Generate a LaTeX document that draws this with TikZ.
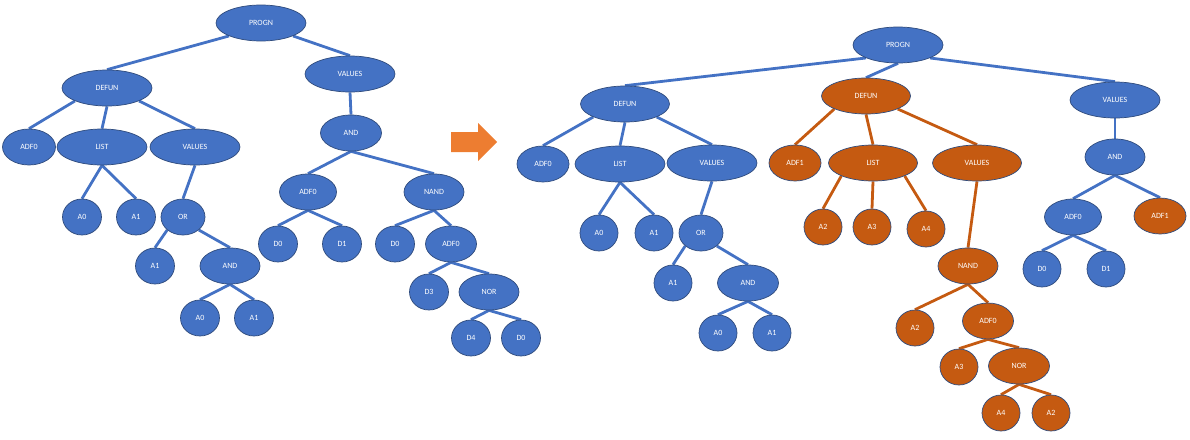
\documentclass[tikz,border=0pt]{standalone}
\usepackage{fontspec}
\setmainfont{Carlito}
\usetikzlibrary{shapes.geometric,backgrounds}
\definecolor{bfill}{HTML}{4472C4}
\definecolor{ofill}{HTML}{C55A11}
\definecolor{rim}{HTML}{2F4B7C}
\definecolor{arrowc}{HTML}{ED7D31}

\begin{document}
\begin{tikzpicture}[x=1pt,y=-1pt,
    tn/.style={ellipse, draw=rim, line width=0.7pt, text=white, inner sep=0pt,
      minimum width=#1, minimum height=36, font=\fontsize{8}{9}\selectfont},
    bn/.style={tn=#1, fill=bfill},
    on/.style={tn=#1, fill=ofill},
    bl/.style={draw=bfill, line width=2.8pt},
    ol/.style={draw=ofill, line width=2.8pt}]
  \useasboundingbox (0,0) rectangle (1190,439);

  % first tree
  \node[bn=90] (l0) at (261,23) {PROGN};
  \node[bn=90] (l1) at (107,88) {DEFUN};
  \node[bn=90] (l2) at (350,74) {VALUES};
  \node[bn=53] (l11) at (29,147) {ADF0};
  \node[bn=90] (l12) at (102,147) {LIST};
  \node[bn=90] (l13) at (195,147) {VALUES};
  \node[bn=39] (l121) at (82,217) {A0};
  \node[bn=39] (l122) at (136,217) {A1};
  \node[bn=44] (l131) at (183,217) {OR};
  \node[bn=39] (l1311) at (155,266) {A1};
  \node[bn=60] (l1312) at (230,266) {AND};
  \node[bn=39] (l13121) at (200,318) {A0};
  \node[bn=39] (l13122) at (254,318) {A1};
  \node[bn=61] (l21) at (351,133) {AND};
  \node[bn=57] (l211) at (308,192) {ADF0};
  \node[bn=39] (l2111) at (278,244) {D0};
  \node[bn=39] (l2112) at (342,244) {D1};
  \node[bn=60] (l212) at (434,192) {NAND};
  \node[bn=39] (l2121) at (395,244) {D0};
  \node[bn=51] (l2122) at (451,244) {ADF0};
  \node[bn=39] (l21221) at (429,292) {D3};
  \node[bn=60] (l21222) at (489,292) {NOR};
  \node[bn=39] (l212221) at (471,338) {D4};
  \node[bn=39] (l212222) at (521,338) {D0};

  % second tree
  \node[bn=90] (r0) at (898,45) {PROGN};
  \node[bn=89] (r1) at (625,104) {DEFUN};
  \node[bn=52] (r11) at (543,164) {ADF0};
  \node[bn=90] (r12) at (620,164) {LIST};
  \node[bn=38] (r121) at (599,233) {A0};
  \node[bn=38] (r122) at (654,233) {A1};
  \node[bn=90] (r13) at (712,163) {VALUES};
  \node[bn=44] (r131) at (701,233) {OR};
  \node[bn=38] (r1311) at (673,283) {A1};
  \node[bn=61] (r1312) at (748,283) {AND};
  \node[bn=38] (r13121) at (718,333) {A0};
  \node[bn=38] (r13122) at (772,333) {A1};
  \node[on=89] (r2) at (866,96) {DEFUN};
  \node[on=52] (r21) at (795,163) {ADF1};
  \node[on=89] (r22) at (873,163) {LIST};
  \node[on=38] (r221) at (823,227) {A2};
  \node[on=38] (r222) at (872,227) {A3};
  \node[on=38] (r223) at (926,229) {A4};
  \node[on=89] (r23) at (977,163) {VALUES};
  \node[on=60] (r231) at (968,266) {NAND};
  \node[on=38] (r2311) at (915,328) {A2};
  \node[on=51] (r2312) at (988,321) {ADF0};
  \node[on=38] (r23121) at (959,367) {A3};
  \node[on=61] (r23122) at (1019,366) {NOR};
  \node[on=38] (r231221) at (1001,413) {A4};
  \node[on=38] (r231222) at (1051,413) {A2};
  \node[bn=90] (r3) at (1115,100) {VALUES};
  \node[bn=60] (r31) at (1115,157) {AND};
  \node[bn=57] (r311) at (1073,217) {ADF0};
  \node[bn=38] (r3111) at (1042,269) {D0};
  \node[bn=38] (r3112) at (1106,269) {D1};
  \node[on=52] (r312) at (1160,216) {ADF1};

  \begin{scope}[on background layer]
    \foreach \p/\c in {l0.south west/l1, l0.south east/l2, l1.south west/l11,
      l1.south/l12, l1.south east/l13, l12.south/l121, l12.south/l122,
      l13.south/l131, l131.south west/l1311, l131.south east/l1312,
      l1312.south/l13121, l1312.south/l13122, l2.south/l21, l21.south/l211,
      l21.south/l212, l211.south/l2111, l211.south/l2112, l212.south/l2121,
      l212.south/l2122, l2122.south/l21221, l2122.south/l21222,
      l21222.south/l212221, l21222.south/l212222,
      r0.south west/r1, r0.south/r2, r0.south east/r3, r1.south west/r11,
      r1.south/r12, r1.south east/r13, r12.south/r121, r12.south/r122,
      r13.south/r131, r131.south west/r1311, r131.south east/r1312,
      r1312.south/r13121, r1312.south/r13122, r3.south/r31, r31.south/r311,
      r31.south/r312, r311.south/r3111, r311.south/r3112}
      \draw[bl] (\p) -- (\c.north);
    \foreach \p/\c in {r2.south west/r21, r2.south/r22, r2.south east/r23,
      r22.south west/r221, r22.south/r222, r22.south east/r223,
      r23.south/r231, r231.south/r2311, r231.south/r2312,
      r2312.south/r23121, r2312.south/r23122,
      r23122.south/r231221, r23122.south/r231222}
      \draw[ol] (\p) -- (\c.north);
  \end{scope}

  % arrow between the trees
  \fill[arrowc] (451,132) -- (478,132) -- (478,123) -- (497,142) -- (478,161)
    -- (478,152) -- (451,152) -- cycle;
\end{tikzpicture}
\end{document}
